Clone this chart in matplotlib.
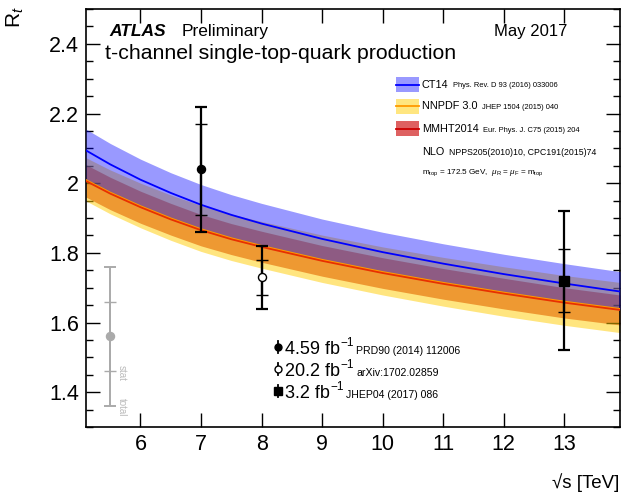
import matplotlib
matplotlib.use("Agg")
import matplotlib.pyplot as plt
from matplotlib.patches import Rectangle
from matplotlib.ticker import MultipleLocator

plt.rcParams['font.family'] = ['Liberation Sans', 'DejaVu Sans']
plt.rcParams['mathtext.fontset'] = 'custom'
plt.rcParams['mathtext.rm'] = 'Liberation Sans'
plt.rcParams['mathtext.it'] = 'Liberation Sans:italic'
plt.rcParams['mathtext.bf'] = 'Liberation Sans:bold'

# theory curves, R_t vs sqrt(s)
sqrt_s = [5.1, 5.5, 6, 6.5, 7, 7.5, 8, 9, 10, 11, 12, 13, 13.92]
ct14 = [2.094, 2.054, 2.010, 1.972, 1.938, 1.909, 1.884, 1.840, 1.802, 1.769, 1.739, 1.712, 1.689]
ct14_hi = [2.155, 2.114, 2.069, 2.030, 1.996, 1.967, 1.942, 1.897, 1.859, 1.826, 1.796, 1.769, 1.746]
ct14_lo = [2.010, 1.973, 1.934, 1.899, 1.867, 1.842, 1.820, 1.780, 1.745, 1.714, 1.686, 1.660, 1.639]
mmht = [2.006, 1.970, 1.931, 1.896, 1.865, 1.839, 1.817, 1.777, 1.742, 1.711, 1.683, 1.657, 1.636]
mmht_hi = [2.053, 2.017, 1.977, 1.942, 1.910, 1.884, 1.862, 1.821, 1.786, 1.755, 1.727, 1.700, 1.679]
mmht_lo = [1.960, 1.924, 1.885, 1.851, 1.820, 1.795, 1.773, 1.733, 1.698, 1.667, 1.639, 1.613, 1.593]
nnpdf = [2.009, 1.973, 1.934, 1.899, 1.868, 1.842, 1.820, 1.780, 1.745, 1.714, 1.686, 1.660, 1.639]
nnpdf_hi = [2.073, 2.038, 2.000, 1.966, 1.936, 1.911, 1.890, 1.851, 1.817, 1.787, 1.760, 1.735, 1.715]
nnpdf_lo = [1.949, 1.912, 1.872, 1.836, 1.804, 1.778, 1.756, 1.715, 1.679, 1.647, 1.618, 1.592, 1.571]

# measurements
meas_x = [7, 8, 13]
meas_y = [2.04, 1.73, 1.72]
meas_stat = [0.13, 0.05, 0.09]
meas_tot = [0.18, 0.09, 0.20]
meas_marker = ['o', 'o', 's']
meas_fill = ['black', 'white', 'black']
meas_lumi = ['4.59 fb', '20.2 fb', '3.2 fb']
meas_ref = ['PRD90 (2014) 112006', 'arXiv:1702.02859', 'JHEP04 (2017) 086']

# stat/total key
key_x, key_y, key_stat, key_tot = 5.5, 1.56, 0.10, 0.20

fig = plt.figure(figsize=(6.22, 4.94), dpi=100)
ax = fig.add_axes([86 / 622, 1 - 427 / 494, 534 / 622, 418 / 494])


def px_y(py):
    # pixel row in the figure -> axes fraction
    return (427 - py) / 418


def right_edge(t):
    fig.canvas.draw()
    return t.get_window_extent().transformed(ax.transAxes.inverted()).x1


# bands: red first, then yellow, blue on top
ax.fill_between(sqrt_s, mmht_lo, mmht_hi, color=(0.78, 0, 0), alpha=0.6, lw=0, zorder=1)
ax.fill_between(sqrt_s, nnpdf_lo, nnpdf_hi, color=(1, 0.8, 0), alpha=0.5, lw=0, zorder=2)
ax.fill_between(sqrt_s, ct14_lo, ct14_hi, color=(0, 0, 1), alpha=0.4, lw=0, zorder=3)
ax.plot(sqrt_s, nnpdf, color='#ff9900', lw=1.3, zorder=4)
ax.plot(sqrt_s, mmht, color='#e83000', lw=1.3, zorder=4)
ax.plot(sqrt_s, ct14, color='#0000ff', lw=1.3, zorder=5)

for x, y, st, tot, m, fc in zip(meas_x, meas_y, meas_stat, meas_tot, meas_marker, meas_fill):
    ax.errorbar([x], [y], yerr=[tot], fmt='none', ecolor='black', elinewidth=1.6,
                capsize=4.6, capthick=1.6, zorder=6)
    ax.errorbar([x], [y], yerr=[st], fmt='none', ecolor='black', elinewidth=1.6,
                capsize=4.6, capthick=1.0, zorder=6)
    ax.plot([x], [y], marker=m, ms=6.5 if m == 's' else 5.8, mfc=fc, mec='black',
            mew=1.0, ls='none', zorder=7)

grey = '#aaaaaa'
ax.errorbar([key_x], [key_y], yerr=[key_tot], fmt='none', ecolor=grey, elinewidth=1.4,
            capsize=4.6, capthick=1.4, zorder=6)
ax.errorbar([key_x], [key_y], yerr=[key_stat], fmt='none', ecolor=grey, elinewidth=1.4,
            capsize=4.6, capthick=1.0, zorder=6)
ax.plot([key_x], [key_y], 'o', color=grey, ms=5.8, zorder=7)
ax.text(key_x + 0.19, key_y - 0.106, 'stat', rotation=-90, color='#bbbbbb',
        fontsize=7, ha='center', va='center')
ax.text(key_x + 0.19, key_y - 0.203, 'total', rotation=-90, color='#bbbbbb',
        fontsize=7, ha='center', va='center')

ax.set_xlim(5.1, 13.92)
ax.set_ylim(1.3, 2.5)
ax.xaxis.set_major_locator(MultipleLocator(1))
ax.yaxis.set_minor_locator(MultipleLocator(0.05))
ax.set_yticks([1.4, 1.6, 1.8, 2.0, 2.2, 2.4])
ax.set_yticklabels(['1.4', '1.6', '1.8', '2', '2.2', '2.4'])
ax.tick_params(which='both', direction='in', top=True, right=True, labelsize=15.5, width=1)
ax.tick_params(which='major', length=10, pad=5)
ax.tick_params(which='minor', length=5)
for s in ax.spines.values():
    s.set_linewidth(1.2)

fig.text(15 / 622, 1 - 6 / 494, 'R$_t$', rotation=90, fontsize=15, ha='center', va='top')
fig.text(619 / 622, 1 - 488 / 494, '\u221as [TeV]', fontsize=13.5, ha='right', va='baseline')

# header
ax.text(0.044, 0.935, 'ATLAS', fontsize=12.5, fontweight='bold', fontstyle='italic',
        transform=ax.transAxes, va='baseline')
ax.text(0.180, 0.935, 'Preliminary', fontsize=12.5, transform=ax.transAxes, va='baseline')
ax.text(0.764, 0.935, 'May 2017', fontsize=12, transform=ax.transAxes, va='baseline')
ax.text(0.036, 0.880, 't-channel single-top-quark production', fontsize=15.3,
        transform=ax.transAxes, va='baseline')

# theory key
theory_names = ['CT14', 'NNPDF 3.0', 'MMHT2014']
theory_refs = ['Phys. Rev. D 93 (2016) 033006', 'JHEP 1504 (2015) 040',
               'Eur. Phys. J. C75 (2015) 204']
box_fill = [(0.6, 0.6, 1.0), (1.0, 0.9, 0.5), (0.87, 0.38, 0.38)]
box_line = ['#0000ff', '#ff9900', '#cc0000']
box_y = [0.819, 0.767, 0.713]
for name, ref, fc, lc, y in zip(theory_names, theory_refs, box_fill, box_line, box_y):
    ax.add_patch(Rectangle((0.5805, y - 0.018), 0.043, 0.036, facecolor=fc,
                           edgecolor='none', transform=ax.transAxes, zorder=8))
    ax.plot([0.5805, 0.6235], [y, y], color=lc, lw=1.3, transform=ax.transAxes, zorder=9)
    t = ax.text(0.629, y, name, fontsize=7.8, transform=ax.transAxes, va='center')
    ax.text(right_edge(t) + 0.008, y - 0.003, ref, fontsize=5.4,
            transform=ax.transAxes, va='center')

ax.text(0.629, 0.658, 'NLO', fontsize=7.8, transform=ax.transAxes, va='center')
ax.text(0.679, 0.656, 'NPPS205(2010)10, CPC191(2015)74', fontsize=6.3,
        transform=ax.transAxes, va='center')
ax.text(0.629, 0.608, r'm$_{\rm top}$ = 172.5 GeV,  $\mu_{\rm R}$ = $\mu_{\rm F}$ = m$_{\rm top}$',
        fontsize=5.9, transform=ax.transAxes, va='center')

# measurement key
key_rows = [347, 369, 391]
for m, fc, lumi, ref, py in zip(meas_marker, meas_fill, meas_lumi, meas_ref, key_rows):
    y = px_y(py)
    ax.plot([0.3596, 0.3596], [y - 0.015, y + 0.015], color='black', lw=1.3,
            transform=ax.transAxes, zorder=9)
    ax.plot([0.3596], [y], marker=m, ms=6 if m == 's' else 5, mfc=fc, mec='black',
            mew=1.0, transform=ax.transAxes, zorder=10)
    t = ax.text(0.373, px_y(py + 6.5), lumi, fontsize=13, transform=ax.transAxes,
                va='baseline')
    x1 = right_edge(t)
    s = ax.text(x1 + 0.001, px_y(py - 1.5), '\u22121', fontsize=8.5,
                transform=ax.transAxes, va='baseline')
    ax.text(right_edge(s) + 0.004, px_y(py + 6.5), ref, fontsize=7.6,
            transform=ax.transAxes, va='baseline')

fig.savefig('out.png', dpi=100)
